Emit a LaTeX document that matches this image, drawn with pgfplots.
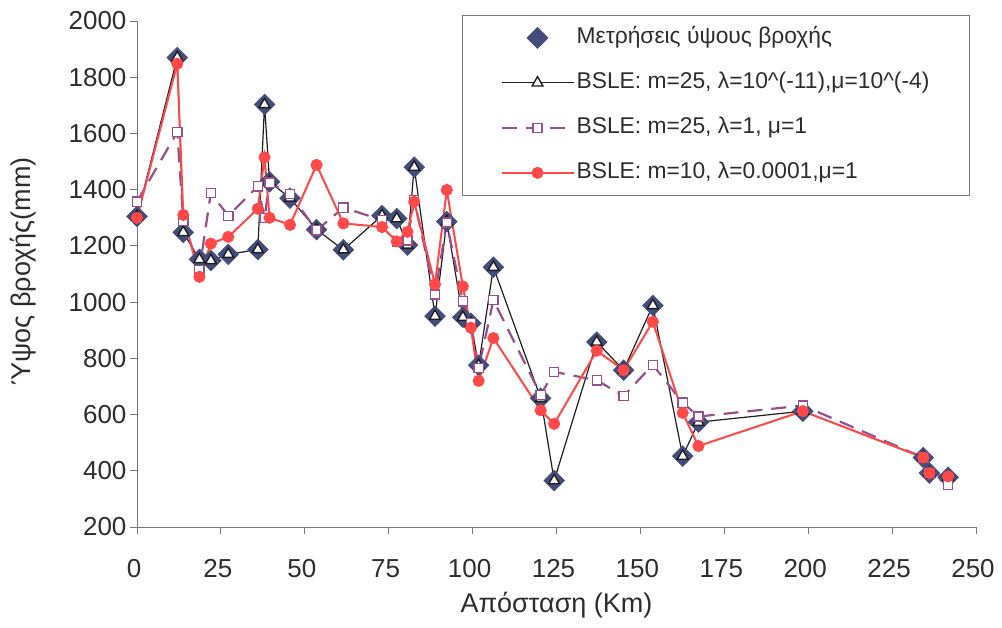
\documentclass[border=0pt]{standalone}
\usepackage{fontspec}
\setmainfont{Liberation Sans}
\usepackage{pgfplots}
\pgfplotsset{compat=1.18}
\usepackage{pgfplotstable}
\definecolor{diamondc}{RGB}{68,76,122}
\definecolor{sqc}{RGB}{150,80,140}
\definecolor{redc}{RGB}{255,72,72}
\definecolor{blk}{RGB}{30,30,30}
\definecolor{textgray}{RGB}{45,45,45}
\definecolor{axisgray}{RGB}{120,120,120}

\pgfplotsset{
  longleg/.style={legend image code/.code={\draw[mark repeat=2, mark phase=2, ##1] plot coordinates {(0pt,0pt) (36pt,0pt) (72pt,0pt)};}},
  diamleg/.style={legend image code/.code={\draw[##1] plot coordinates {(36pt,0pt)};}},
}

\pgfplotstableread{
x     meas  tri   sq    red
0     1305  1305  1357  1300
12    1870  1870  1605  1848
13.8  1248  1248  1288  1310
18.6  1152  1152  1115  1090
22    1148  1148  1388  1208
27.2  1170  1170  1307  1232
36    1187  1187  1412  1332
38    1703  1703  1300  1515
39.5  1428  1428  1425  1300
45.6  1370  1370  1385  1275
53.5  1258  1258  1255  1488
61.5  1186  1186  1336  1280
73    1308  1308  1292  1267
77.4  1297  1297  1214  1216
80.6  1203  1203  1220  1250
82.6  1480  1480  1363  1357
88.8  950   950   1027  1063
92.3  1286  1286  1283  1399
97.1  946   946   1003  1056
99.5  925   925   925   909
101.8 775   775   765   720
106.2 1124  1124  1007  872
120.3 658   658   670   615
124.3 365   365   752   567
137   858   858   722   827
145   758   758   666   758
153.7 988   988   777   930
162.6 452   452   642   606
167.3 573   573   593   488
198.4 612   612   632   612
234.3 447   447   447   447
236.1 392   392   392   392
241.7 377   377   350   380
}\datatable

\begin{document}
\begin{tikzpicture}
\begin{axis}[
  at={(0pt,0pt)}, anchor=south west,
  scale only axis, width=839pt, height=506pt,
  xmin=0, xmax=250, ymin=200, ymax=2000,
  xtick={0,25,...,250}, ytick={200,400,...,2000},
  axis x line*=bottom, axis y line*=left,
  axis line style={color=axisgray, line width=0.8pt, -},
  tick align=outside, major tick length=7pt,
  tick style={color=axisgray, line width=0.8pt},
  ticklabel style={font=\fontsize{26}{30}\selectfont, color=textgray},
  xticklabel style={yshift=-22pt, xshift=-3pt},
  /pgf/number format/assume math mode=true,
  /pgf/number format/1000 sep={},
  clip=false,
  xlabel={Απόσταση (Km)}, ylabel={Ύψος βροχής(mm)},
  label style={font=\fontsize{27}{32}\selectfont, color=textgray},
  xlabel style={at={(axis description cs:0.5,-0.154)}, anchor=center},
  ylabel style={at={(axis description cs:-0.1359,0.505)}, anchor=center},
  legend style={at={(rel axis cs:0.3874,1.0119)}, anchor=north west,
    draw=axisgray, line width=0.8pt, fill=white,
    inner xsep=38pt, inner ysep=10pt, row sep=20pt,
    font=\fontsize{22.8}{27}\selectfont, text=textgray,
    cells={anchor=west},
    nodes={text height=16pt, text depth=5pt, inner sep=2pt}},
  longleg,
]
\addplot[only marks, mark=square*, mark size=7.4pt,
  mark options={rotate=45, fill=diamondc, draw=diamondc}, diamleg]
  table[x=x, y=meas] {\datatable};
\addlegendentry{Μετρήσεις ύψους βροχής}

\addplot[color=blk, line width=1.2pt, mark=triangle*, mark size=6.2pt,
  mark options={fill=white, draw=blk, line width=1.4pt}]
  table[x=x, y=tri] {\datatable};
\addlegendentry{BSLE: m=25, λ=10\string^(-11),μ=10\string^(-4)}

\addplot[color=sqc, line width=2.2pt, dash pattern=on 15pt off 9pt, mark=square*, mark size=4.6pt,
  mark options={fill=white, draw=sqc, solid, line width=1.3pt}]
  table[x=x, y=sq] {\datatable};
\addlegendentry{BSLE: m=25, λ=1, μ=1}

\addplot[color=redc, line width=2pt, mark=*, mark size=5pt,
  mark options={fill=redc, draw=redc}]
  table[x=x, y=red] {\datatable};
\addlegendentry{BSLE: m=10, λ=0.0001,μ=1}
\end{axis}
\pgfresetboundingbox
\useasboundingbox (-137pt,-101pt) rectangle (865pt,527pt);
\end{tikzpicture}
\end{document}
